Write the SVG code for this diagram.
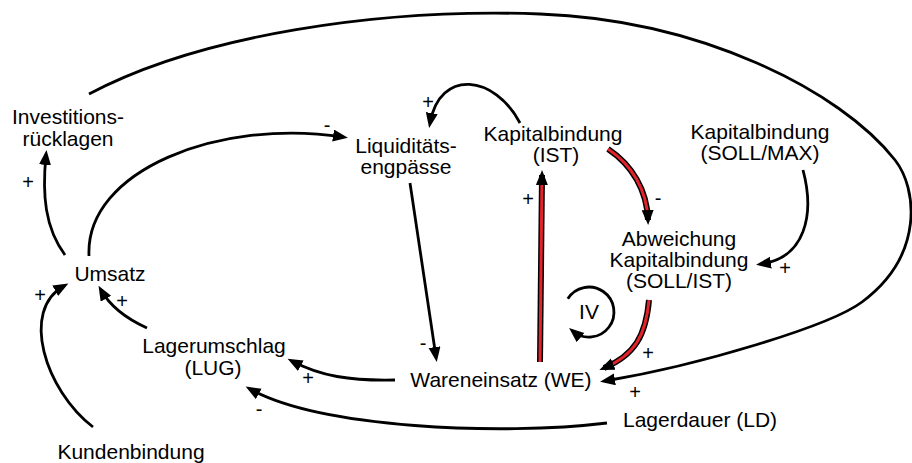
<svg xmlns="http://www.w3.org/2000/svg" width="912" height="463" viewBox="0 0 912 463">
<defs>
<style>
text{font-family:"Liberation Sans",Arial,Helvetica,sans-serif;fill:#000;text-anchor:middle}
.n text{font-size:21px}
.lbl{font-size:20px}
.c{fill:none;stroke:#000;stroke-width:2.8;marker-end:url(#ah)}
.rb{fill:none;stroke:#000;stroke-width:6}
.rr{fill:none;stroke:#e3232b;stroke-width:3}
.rm{fill:none;stroke:none;marker-end:url(#ah)}
</style>
<marker id="ah" markerUnits="userSpaceOnUse" markerWidth="16" markerHeight="13" refX="10" refY="6" orient="auto">
<path d="M0,0 L15,6 L0,12 z" fill="#000"/>
</marker>
</defs>
<rect width="912" height="463" fill="#fff"/>
<g id="connectors">
<path id="e-inv-we" class="c" d="M89,94 C200,35 380,8 540,14 C700,20 840,90 895,160 C917,188 925,255 862,302 C830,326 700,365 605,381"/>
<path id="e-ums-inv" class="c" d="M65,255 C45,228 42,195 46,155"/>
<path id="e-ums-liq" class="c" d="M89,256 C85,170 220,118 343,137"/>
<path id="e-kap-liq" class="c" d="M520,123 C495,75 440,68 430,123"/>
<path id="e-liq-we" class="c" d="M410,183 L436,357"/>
<g id="e-we-kap">
<path class="rb" d="M540,362 L542,175"/>
<path class="rr" d="M540,362 L542,175"/>
<path class="rm" d="M540,362 L542,175"/>
</g>
<g id="e-kap-abw">
<path class="rb" d="M608,149 C632,165 647,190 648,220"/>
<path class="rr" d="M608,149 C632,165 647,190 648,220"/>
<path class="rm" d="M608,149 C632,165 647,190 648,220"/>
</g>
<g id="e-abw-we">
<path class="rb" d="M649,300 C646,335 635,355 604,368"/>
<path class="rr" d="M649,300 C646,335 635,355 604,368"/>
<path class="rm" d="M649,300 C646,335 635,355 604,368"/>
</g>
<path id="e-soll-abw" class="c" d="M803,170 C815,215 805,258 761,264"/>
<path id="e-we-lug" class="c" d="M395,380 C350,381 320,376 292,361"/>
<path id="e-ld-lug" class="c" d="M607,423 C500,436 320,428 250,389"/>
<path id="e-lug-ums" class="c" d="M147,328 C125,318 110,306 101,290"/>
<path id="e-kund-ums" class="c" d="M93,427 C45,390 20,310 64,286"/>
<path id="loop-iv" class="c" d="M567.8,298.75 A25,25 0 1 1 572.9,331.2"/>
<g id="labels">
<text class="lbl" x="28" y="189">+</text>
<text class="lbl" x="327" y="132">-</text>
<text class="lbl" x="428" y="109">+</text>
<text class="lbl" x="423" y="350">-</text>
<text class="lbl" x="528" y="206">+</text>
<text class="lbl" x="658" y="205">-</text>
<text class="lbl" x="648" y="360">+</text>
<text class="lbl" x="635" y="399">+</text>
<text class="lbl" x="785" y="275">+</text>
<text class="lbl" x="308" y="385">+</text>
<text class="lbl" x="259" y="416">-</text>
<text class="lbl" x="122" y="308">+</text>
<text class="lbl" x="40" y="302">+</text>
</g>
</g>
<g id="n-inv" class="n"><text x="68" y="124">Investitions-</text><text x="68" y="146">rücklagen</text></g>
<g id="n-liq" class="n"><text x="406" y="153">Liquiditäts-</text><text x="406" y="174">engpässe</text></g>
<g id="n-kap" class="n"><text x="553" y="141">Kapitalbindung</text><text x="556" y="162">(IST)</text></g>
<g id="n-soll" class="n"><text x="760" y="139">Kapitalbindung</text><text x="760" y="160">(SOLL/MAX)</text></g>
<g id="n-abw" class="n"><text x="679" y="246">Abweichung</text><text x="679" y="267">Kapitalbindung</text><text x="679" y="288">(SOLL/IST)</text></g>
<g id="n-ums" class="n"><text x="110" y="281">Umsatz</text></g>
<g id="n-lug" class="n"><text x="214" y="353">Lagerumschlag</text><text x="213" y="375">(LUG)</text></g>
<g id="n-kund" class="n"><text x="131" y="459">Kundenbindung</text></g>
<g id="n-we" class="n"><text x="501" y="387">Wareneinsatz (WE)</text></g>
<g id="n-ld" class="n"><text x="700" y="427">Lagerdauer (LD)</text></g>
<g id="n-iv" class="n"><text x="589" y="319">IV</text></g>
</svg>
